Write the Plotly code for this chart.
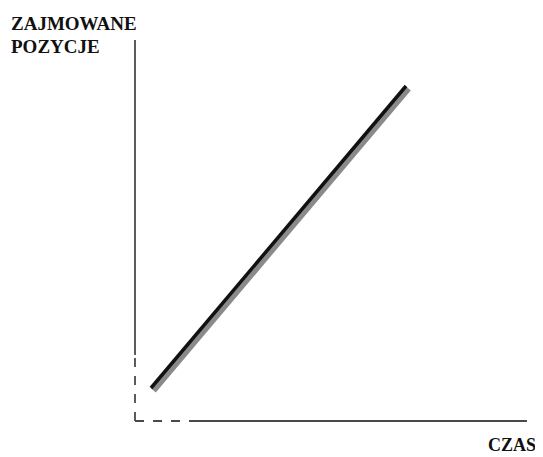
import plotly.graph_objects as go

# Data (time vs. occupied positions), in chart units with origin at axes corner
czas = [16, 271]
pozycje = [33, 335]

y_label_1 = "ZAJMOWANE"
y_label_2 = "POZYCJE"
x_label = "CZAS"

fig = go.Figure()

# gray shadow line (slightly offset)
fig.add_trace(go.Scatter(x=[c + 2.5 for c in czas], y=[p - 2.5 for p in pozycje],
                         mode="lines", line=dict(color="#8a8a8a", width=6),
                         hoverinfo="skip", showlegend=False))
# black main line
fig.add_trace(go.Scatter(x=czas, y=pozycje, mode="lines",
                         line=dict(color="#111111", width=3.5),
                         hoverinfo="skip", showlegend=False))

axis_col = "#4a4a4a"
# y axis: solid upper part, dashed near origin
fig.add_shape(type="line", x0=0, x1=0, y0=66, y1=381, line=dict(color=axis_col, width=1.8))
fig.add_shape(type="line", x0=0, x1=0, y0=0, y1=66, line=dict(color=axis_col, width=1.8, dash="dash"))
# x axis: dashed near origin, solid after
fig.add_shape(type="line", x0=0, x1=56, y0=0, y1=0, line=dict(color=axis_col, width=1.8, dash="dash"))
fig.add_shape(type="line", x0=56, x1=392, y0=0, y1=0, line=dict(color=axis_col, width=1.8))

font = dict(family="Liberation Serif", size=19, color="#111111")
fig.add_annotation(text="<b>" + y_label_1 + "</b>", x=-126, y=398, xanchor="left", yanchor="middle",
                   showarrow=False, font=font)
fig.add_annotation(text="<b>" + y_label_2 + "</b>", x=-126, y=374.5, xanchor="left", yanchor="middle",
                   showarrow=False, font=font)
fig.add_annotation(text="<b>" + x_label + "</b>", x=403, y=-24, xanchor="right", yanchor="middle",
                   showarrow=False, font=dict(family="Liberation Serif", size=18, color="#111111"))

fig.update_layout(
    width=535, height=449,
    margin=dict(l=0, r=0, t=0, b=0),
    paper_bgcolor="white", plot_bgcolor="white",
    xaxis=dict(range=[-127, 408], visible=False, fixedrange=True),
    yaxis=dict(range=[-36, 413], visible=False, fixedrange=True),
    showlegend=False,
)

fig.write_html("out.html")
